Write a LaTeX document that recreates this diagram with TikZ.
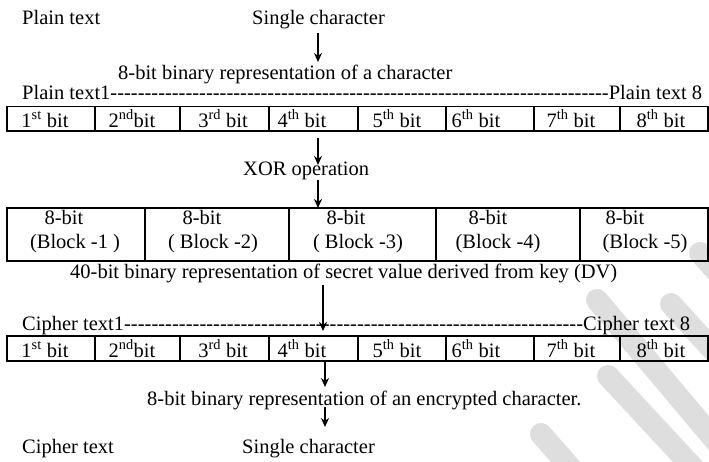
\documentclass[tikz,border=0pt]{standalone}
\usepackage{fontspec}
\setmainfont{Liberation Serif}
\usetikzlibrary{arrows.meta}
\begin{document}
\begin{tikzpicture}[x=1pt,y=-1pt,
  txt/.style={anchor=base west, inner sep=0pt, font=\fontsize{20.5}{24}\selectfont},
  ctxt/.style={anchor=base, inner sep=0pt, font=\fontsize{20.5}{24}\selectfont},
  rule/.style={line width=1.8pt},
  arr/.style={line width=1.8pt, -{Stealth[length=9pt,width=8pt]}},
  wm/.style={line width=22pt, line cap=round, black!13}]
\useasboundingbox (0,0) rectangle (709,462);

% light watermark strokes
\begin{scope}
  \clip (0,0) rectangle (709,462);
  \draw[wm] (700,253) -- (760,320);
  \draw[wm] (597,300) -- (740,470);
  \draw[wm] (671,304) -- (740,380);
  \draw[wm] (608,376) -- (700,475);
  \draw[wm] (541,434) -- (590,490);
\end{scope}

% ---- plain text side ----
\node[txt] (pt)  at (22,25)  {Plain text};
\node[txt] (sc1) at (252,25) {Single character};
\node[txt] (rep1) at (118,79.5) {8-bit binary representation of a character};
\node[txt] (ptl) at (22,99.5) {\makebox[680pt]{Plain text1\xleaders\hbox{-}\hfill Plain text 8}};

% first 8-bit row
\foreach \a/\b in {7/95,95/180,180/269,269/358,358/446,446/534,534/620,620/708}
  \draw[rule] (\a,106.5) rectangle (\b,131);
\foreach \x/\n in {45/1\textsuperscript{st} bit,132/2\textsuperscript{nd}bit,223/3\textsuperscript{rd} bit,
  302/4\textsuperscript{th} bit,397/5\textsuperscript{th} bit,476/6\textsuperscript{th} bit,
  571/7\textsuperscript{th} bit,661/8\textsuperscript{th} bit}
  \node[ctxt] at (\x,127.5) {\n};

\node[txt] (xor) at (243,176) {XOR operation};

% 40-bit key blocks
\foreach \a/\b in {7/145,145/289,289/436,436/580,580/708}
  \draw[rule] (\a,208) rectangle (\b,261);
\foreach \x/\y/\n in {64/225/8-bit,202/225/8-bit,346/225/8-bit,488/225/8-bit,625/225/8-bit,
  75/249/(Block -1 ),213/249/( Block -2),358/249/( Block -3),498/249/(Block -4),645/249/(Block -5)}
  \node[ctxt] at (\x,\y) {\n};
\node[txt] (dv) at (70,278) {40-bit binary representation of secret value derived from key (DV)};

% ---- cipher text side ----
\node[txt] (ctl) at (22,330) {\makebox[668pt]{Cipher text1\xleaders\hbox{-}\hfill Cipher text 8}};
\foreach \a/\b in {7/95,95/180,180/269,269/358,358/446,446/534,534/620,620/708}
  \draw[rule] (\a,336) rectangle (\b,361);
\foreach \x/\n in {45/1\textsuperscript{st} bit,132/2\textsuperscript{nd}bit,223/3\textsuperscript{rd} bit,
  302/4\textsuperscript{th} bit,397/5\textsuperscript{th} bit,476/6\textsuperscript{th} bit,
  571/7\textsuperscript{th} bit,661/8\textsuperscript{th} bit}
  \node[ctxt] at (\x,357) {\n};
\node[txt] (rep2) at (147,405) {8-bit binary representation of an encrypted character.};
\node[txt] (ct)  at (22,453)  {Cipher text};
\node[txt] (sc2) at (242,453) {Single character};

% flow arrows
\coordinate (a1s) at (318,33);  \coordinate (a1e) at (318,62);
\coordinate (a2s) at (318,138); \coordinate (a2e) at (318,165);
\coordinate (a3s) at (318,180); \coordinate (a3e) at (318,208);
\coordinate (a4s) at (323,285); \coordinate (a4e) at (323,331);
\coordinate (a5s) at (325,361); \coordinate (a5e) at (325,387);
\coordinate (a6s) at (325,407); \coordinate (a6e) at (325,427);
\foreach \s/\e in {a1s/a1e,a2s/a2e,a3s/a3e,a4s/a4e,a5s/a5e,a6s/a6e}
  \draw[arr] (\s) -- (\e);
\end{tikzpicture}
\end{document}
